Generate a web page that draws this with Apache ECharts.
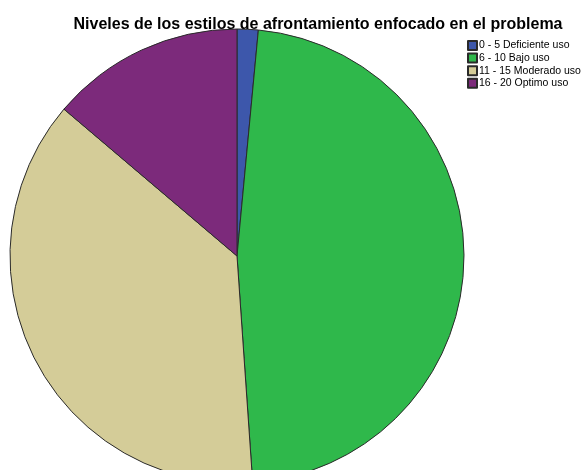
<!DOCTYPE html>
<html>
<head>
<meta charset="utf-8">
<script src="https://cdn.jsdelivr.net/npm/echarts@6/dist/echarts.min.js"></script>
<style>
html,body{margin:0;padding:0;background:#fff;}
#chart{width:583px;height:470px;}
</style>
</head>
<body>
<div id="chart"></div>
<script>
// Niveles de afrontamiento enfocado en el problema (porcentajes)
const categories = ['0 - 5 Deficiente uso', '6 - 10 Bajo uso', '11 - 15 Moderado uso', '16 - 20 Optimo uso'];
const values = [1.5, 47.4, 37.3, 13.8];
const colors = ['#3d57ab', '#2fb84b', '#d4cc98', '#7c2a7b'];

const chart = echarts.init(document.getElementById('chart'), null, {renderer: 'canvas'});
chart.setOption({
  animation: false,
  title: {
    text: 'Niveles de los estilos de afrontamiento enfocado en el problema',
    left: 318,
    top: 17,
    padding: 0,
    textAlign: 'center',
    textStyle: {fontFamily: 'Liberation Sans, Arial, sans-serif', fontSize: 16, fontWeight: 'bold', color: '#000'}
  },
  legend: {
    orient: 'vertical',
    left: 467,
    top: 40,
    padding: 0,
    itemWidth: 9,
    itemHeight: 9,
    itemGap: 1.6,
    icon: 'rect',
    selectedMode: false,
    textStyle: {fontFamily: 'Liberation Sans, Arial, sans-serif', fontSize: 10.5, lineHeight: 9, color: '#000', padding: [0, 0, 0, -3]},
    data: categories
  },
  series: [{
    type: 'pie',
    center: [237, 256],
    radius: 227,
    startAngle: 90,
    clockwise: true,
    label: {show: false},
    labelLine: {show: false},
    emphasis: {disabled: true},
    itemStyle: {borderColor: '#2a2a2a', borderWidth: 1},
    data: categories.map((c, i) => ({name: c, value: values[i], itemStyle: {color: colors[i]}}))
  }]
});
</script>
</body>
</html>
